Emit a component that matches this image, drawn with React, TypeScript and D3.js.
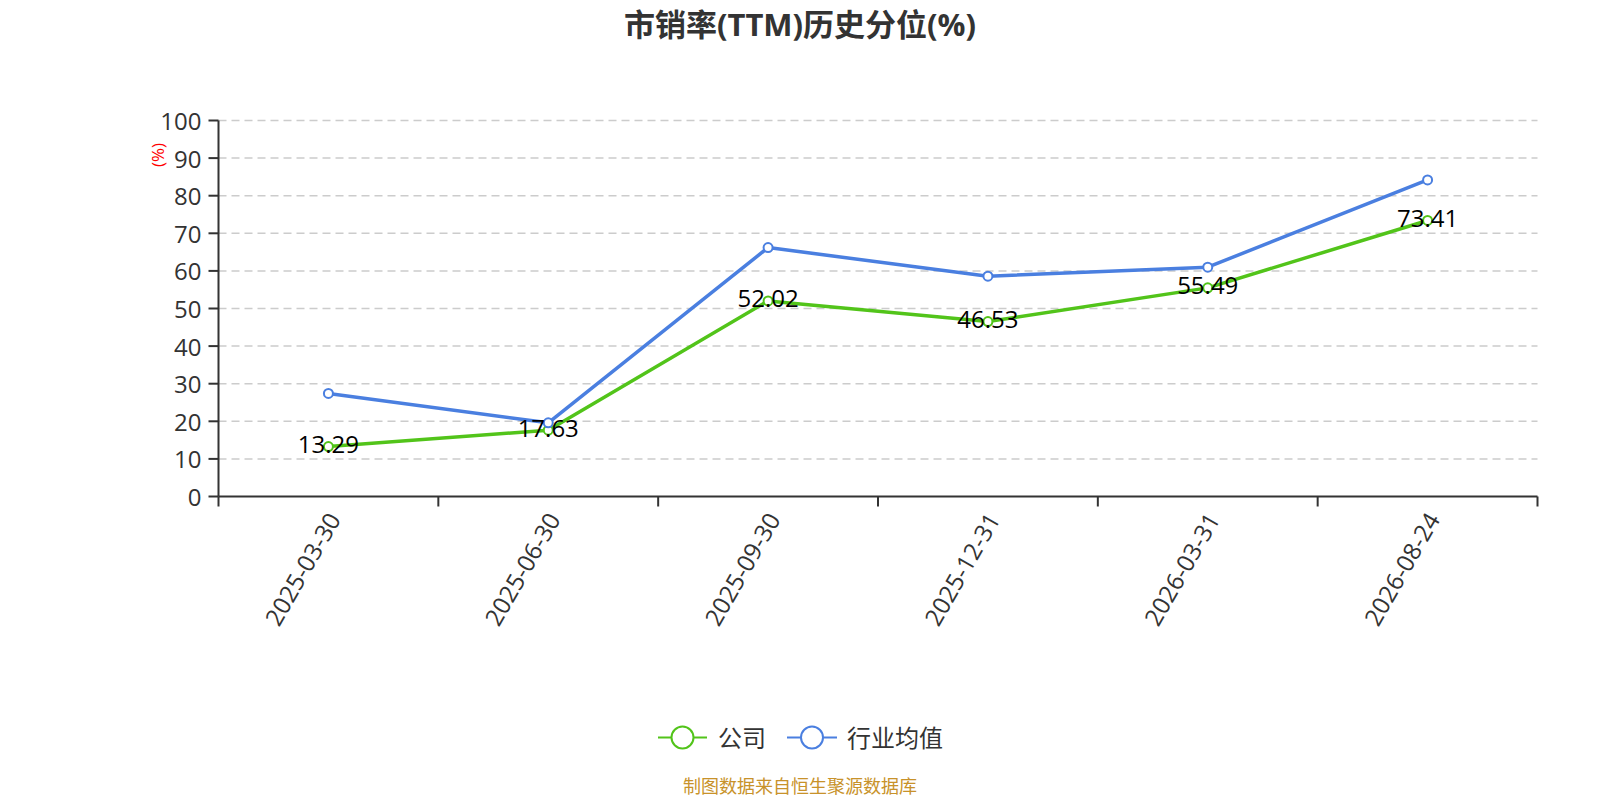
import * as d3 from 'd3';

const WIDTH = 1600;
const HEIGHT = 800;
const MARGIN = { top: 120.5, right: 62.5, bottom: 303.5, left: 218.5 };

const dates = ['2025-03-30', '2025-06-30', '2025-09-30', '2025-12-31', '2026-03-31', '2026-08-24'];
const companyValues = [13.29, 17.63, 52.02, 46.53, 55.49, 73.41];
const industryValues = [27.4, 19.6, 66.2, 58.6, 61.0, 84.2];
const yTicks = [0, 10, 20, 30, 40, 50, 60, 70, 80, 90, 100];

const GREEN = '#52c41a';
const BLUE = '#4a7fe0';
const FONT = '"Open Sans", "Noto Sans CJK SC", sans-serif';

const App = () => {
  const boundsWidth = WIDTH - MARGIN.left - MARGIN.right;
  const boundsHeight = HEIGHT - MARGIN.top - MARGIN.bottom;

  const xScale = d3.scaleBand().domain(dates).range([0, boundsWidth]).padding(0);
  const yScale = d3.scaleLinear().domain([0, 100]).range([boundsHeight, 0]);

  const cx = (d: string) => (xScale(d) ?? 0) + xScale.bandwidth() / 2;

  const line = d3
    .line<number>()
    .x((_, i) => cx(dates[i]))
    .y((v) => yScale(v));

  const series = [
    { name: '公司', color: GREEN, values: companyValues },
    { name: '行业均值', color: BLUE, values: industryValues },
  ];

  // ticks on the x axis sit on band edges
  const xEdges = dates.map((d) => xScale(d) ?? 0).concat([boundsWidth]);

  return (
    <svg
      width={WIDTH}
      height={HEIGHT}
      style={{ position: 'absolute', left: 0, top: 0, background: '#fff' }}
      fontFamily={FONT}
    >
      <text x={800} y={24} textAnchor="middle" dominantBaseline="central" fontSize={31} fontWeight="bold" fill="#333">
        市销率(TTM)历史分位(%)
      </text>

      <text
        x={157}
        y={155}
        textAnchor="middle"
        dominantBaseline="central"
        fontSize={17}
        fill="red"
        transform="rotate(-90, 157, 155)"
      >
        (%)
      </text>

      <g transform={`translate(${MARGIN.left},${MARGIN.top})`}>
        {yTicks.map((t) => (
          <g key={t}>
            {t > 0 && (
              <line x1={0} x2={boundsWidth} y1={yScale(t)} y2={yScale(t)} stroke="#ccc" strokeWidth={1.5} strokeDasharray="8,5" />
            )}
            <line x1={-10} x2={0} y1={yScale(t)} y2={yScale(t)} stroke="#333" strokeWidth={2} />
            <text x={-17} y={yScale(t)} textAnchor="end" dominantBaseline="central" fontSize={24} fill="#333">
              {t}
            </text>
          </g>
        ))}
        <line x1={0} x2={0} y1={0} y2={boundsHeight} stroke="#333" strokeWidth={2} />
        <line x1={0} x2={boundsWidth} y1={boundsHeight} y2={boundsHeight} stroke="#333" strokeWidth={2} />
        {xEdges.map((x, i) => (
          <line key={i} x1={x} x2={x} y1={boundsHeight} y2={boundsHeight + 10} stroke="#333" strokeWidth={2} />
        ))}
        {dates.map((d) => {
          const x = cx(d) + 5;
          const y = boundsHeight + 18;
          return (
            <text
              key={d}
              x={x}
              y={y}
              textAnchor="end"
              dominantBaseline="central"
              fontSize={24}
              fill="#333"
              transform={`rotate(-60, ${x}, ${y})`}
            >
              {d}
            </text>
          );
        })}

        {series.map((s) => (
          <g key={s.name}>
            <path d={line(s.values) ?? ''} fill="none" stroke={s.color} strokeWidth={3.5} strokeLinejoin="round" />
            {s.values.map((v, i) => (
              <circle key={i} cx={cx(dates[i])} cy={yScale(v)} r={4.5} fill="#fff" stroke={s.color} strokeWidth={2} />
            ))}
          </g>
        ))}
        {companyValues.map((v, i) => (
          <text key={i} x={cx(dates[i])} y={yScale(v) - 3} textAnchor="middle" dominantBaseline="central" fontSize={24} fill="#000">
            {v.toFixed(2)}
          </text>
        ))}
      </g>

      {/* legend */}
      <g>
        <line x1={658} x2={707} y1={737.5} y2={737.5} stroke={GREEN} strokeWidth={2} />
        <circle cx={682.5} cy={737.5} r={11} fill="#fff" stroke={GREEN} strokeWidth={2} />
        <text x={718} y={737.5} dominantBaseline="central" fontSize={24} fill="#333">公司</text>
        <line x1={787} x2={837} y1={737.5} y2={737.5} stroke={BLUE} strokeWidth={2} />
        <circle cx={812} cy={737.5} r={11} fill="#fff" stroke={BLUE} strokeWidth={2} />
        <text x={847} y={737.5} dominantBaseline="central" fontSize={24} fill="#333">行业均值</text>
      </g>

      <text x={800} y={786} textAnchor="middle" dominantBaseline="central" fontSize={18} fill="#c8922a">
        制图数据来自恒生聚源数据库
      </text>
    </svg>
  );
};

export default App;
